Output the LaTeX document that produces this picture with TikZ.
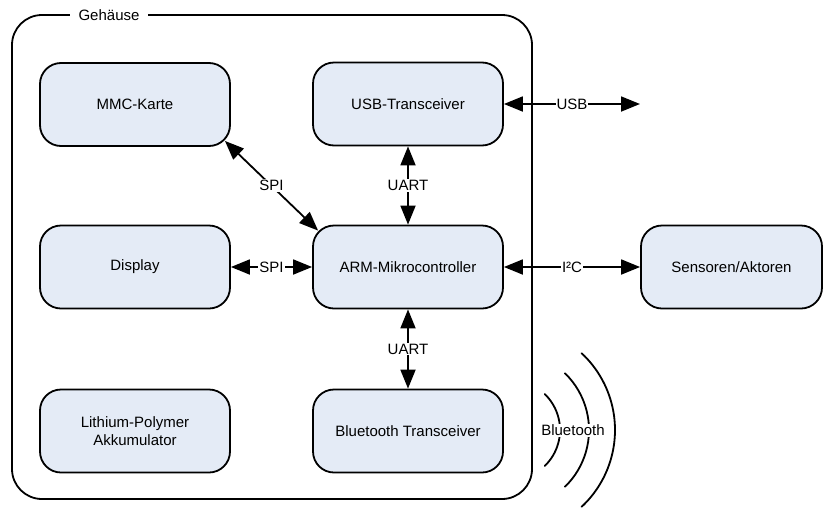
\documentclass[tikz,border=0pt]{standalone}
\usepackage{fontspec}
\setmainfont{Liberation Sans}
\usetikzlibrary{arrows.meta,calc}
\definecolor{boxfill}{HTML}{E4EBF6}
\begin{document}
\begin{tikzpicture}[x=1pt,y=-1pt,
  font=\fontsize{15}{18}\selectfont,
  blk/.style={draw=black,line width=1.8pt,fill=boxfill,rounded corners=21pt,
    minimum width=190pt,minimum height=83pt,align=center,inner sep=0pt},
  link/.style={line width=1.8pt,{Triangle[length=19pt,width=15pt]}-{Triangle[length=19pt,width=15pt]}},
  lbl/.style={fill=white,inner sep=1pt,text=black},
  wave/.style={line width=1.8pt,line cap=round}]
\useasboundingbox (0,0) rectangle (824,509);
% housing
\draw[line width=1.8pt,rounded corners=30pt] (12,15) rectangle (532,499);
\node[fill=white,inner xsep=9pt,inner ysep=2pt] (geh) at (109,15) {Gehäuse};
% blocks
\node[blk] (mmc) at (135,104.5) {MMC-Karte};
\node[blk] (usb) at (408,104) {USB-Transceiver};
\node[blk] (disp) at (135,267) {Display};
\node[blk] (arm) at (408,267) {ARM-Mikrocontroller};
\node[blk] (akku) at (135,431) {Lithium-Polymer\\Akkumulator};
\node[blk] (bt) at (408,431) {Bluetooth Transceiver};
\node[blk,minimum width=181pt] (sens) at (731.5,267) {Sensoren/Aktoren};
\coordinate (usbend) at (640,101);
% connectors
\draw[link] ($(mmc.south east)+(-6,-6)$) -- node[lbl] {SPI} ($(arm.north west)+(6,6)$);
\draw[link] (disp.east) -- node[lbl] {SPI} (arm.west);
\draw[link] (usb.south) -- node[lbl] {UART} (arm.north);
\draw[link] (arm.south) -- node[lbl] {UART} (bt.north);
\draw[link] (usb.east) -- node[lbl] {USB} (usb.east -| usbend);
\draw[link] (arm.east) -- node[lbl] {I²C} (sens.west);
% bluetooth waves
\coordinate (wc) at (510,430);
\draw[wave] ([shift={(46:50)}]wc) arc[start angle=46,end angle=-46,radius=50];
\draw[wave] ([shift={(46:79)}]wc) arc[start angle=46,end angle=-46,radius=79];
\draw[wave] ([shift={(47:105)}]wc) arc[start angle=47,end angle=-47,radius=105];
\node[lbl] (btl) at (573,430) {Bluetooth};
\end{tikzpicture}
\end{document}
